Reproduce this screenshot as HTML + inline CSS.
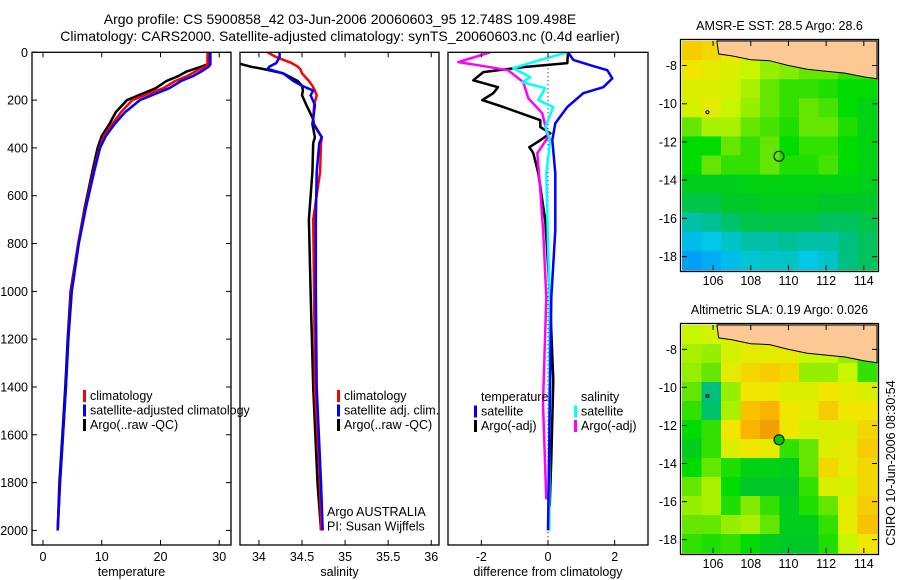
<!DOCTYPE html>
<html><head><meta charset="utf-8"><style>
html,body{margin:0;padding:0;background:#fff}
svg{display:block;font-family:"Liberation Sans",sans-serif}
text{fill:#000}
</style></head><body>
<svg id="fig" width="900" height="580" viewBox="0 0 900 580" xmlns="http://www.w3.org/2000/svg">
<rect width="900" height="580" fill="#fff"/>
<text x="340" y="24" font-size="14" text-anchor="middle">Argo profile: CS 5900858_42 03-Jun-2006 20060603_95 12.748S 109.498E</text>
<text x="340" y="41" font-size="14" text-anchor="middle">Climatology: CARS2000. Satellite-adjusted climatology: synTS_20060603.nc (0.4d earlier)</text>
<g id="layer"></g>
</svg>
<script>
// ---------- temperature panel data ----------
const tDepth = [0,30,50,60,80,100,120,150,200,250,300,350,400,500,650,800,1000,1200,1400,1600,1800,2000];
const tClim  = [28.0,28.0,28.0,27.6,26.0,24.5,22.5,20.5,15.2,13.3,11.8,10.4,9.6,8.6,7.2,6.0,4.8,4.3,3.9,3.4,2.9,2.5];
const tSat   = [28.5,28.5,28.5,28.2,27.0,25.5,23.5,21.5,16.5,14.0,12.2,10.7,9.7,8.7,7.3,6.1,4.9,4.3,3.9,3.4,2.9,2.5];
const tArgo  = [28.3,28.3,28.0,27.0,24.5,23.0,21.0,19.2,14.3,12.4,11.3,10.0,9.3,8.4,7.1,6.0,4.7,4.2,3.8,3.3,2.8,2.5];
const tTicks = [0,10,20,30];
// ---------- salinity panel data ----------
const sDepth = [0,20,45,60,70,88,120,140,160,180,220,280,300,355,380,500,700,1000,1400,1800,2000];
const sClim  = [34.1,34.2,34.38,34.45,34.48,34.5,34.58,34.62,34.65,34.67,34.64,34.63,34.64,34.73,34.72,34.71,34.63,34.64,34.65,34.71,34.72];
const sSat   = [34.24,34.24,34.2,34.12,34.1,34.28,34.4,34.5,34.63,34.6,34.65,34.63,34.63,34.73,34.7,34.67,34.66,34.66,34.67,34.72,34.74];
const sArgo  = [33.6,33.6,33.75,33.9,34.05,34.28,34.45,34.5,34.51,34.5,34.55,34.63,34.62,34.65,34.63,34.62,34.58,34.6,34.63,34.68,34.72];
const sTicks = [34,34.5,35,35.5,36];
// ---------- difference panel data ----------
const dTSatDepth = [0,32,54,75,109,146,171,229,297,367,506,744,1025,1500,2000];
const dTSat      = [0.6,0.76,1.27,1.78,1.93,1.66,1.06,0.58,0.22,0.13,0.22,0.22,0.1,0.05,0.0];
const dTArgoDepth = [0,45,62,83,117,146,171,200,229,284,313,339,376,397,422,506,703,1000,1372,1700,1900];
const dTArgo      = [0.6,0.58,-0.74,-1.94,-2.24,-1.5,-1.64,-1.97,-1.34,-0.23,-0.23,0.07,-0.32,-0.56,-0.44,-0.29,-0.08,0.05,0.16,0.1,0.05];
const dSSatDepth = [0,32,66,104,125,150,200,229,313,367,506,800,1025,1500,2000];
const dSSat      = [0.58,-0.23,-1.04,-0.53,-0.77,-0.08,-0.29,0.16,-0.08,0.07,-0.05,0.0,0.05,0.04,0.04];
const dSArgoDepth = [0,41,54,75,125,192,255,355,422,577,757,1025,1470,1870];
const dSArgo      = [-1.73,-2.69,-2.1,-1.2,-0.74,-0.59,-0.17,0.0,-0.32,-0.23,-0.14,-0.05,-0.15,-0.05];
const dTicks = [-2,0,2];
const depthTicks = [0,200,400,600,800,1000,1200,1400,1600,1800,2000];
// ---------- map data ----------
const lonTicks = [106,108,110,112,114];
const latTicks = [-8,-10,-12,-14,-16,-18];
const sstGrid = [
[.8,.78,.75,.7,.68,.65,.6,.6,.6,.6],
[.75,.72,.7,.65,.6,.58,.55,.55,.5,.5],
[.7,.7,.68,.62,.55,.5,.5,.48,.45,.45],
[.68,.72,.65,.6,.55,.5,.55,.52,.45,.42],
[.55,.62,.62,.55,.52,.48,.55,.55,.48,.42],
[.45,.45,.55,.5,.55,.45,.5,.5,.45,.42],
[.45,.55,.5,.5,.55,.48,.48,.52,.45,.42],
[.4,.4,.4,.42,.42,.42,.42,.42,.42,.4],
[.35,.35,.38,.38,.4,.4,.4,.38,.38,.38],
[.25,.28,.32,.35,.35,.35,.35,.33,.33,.35],
[.12,.15,.2,.25,.25,.28,.25,.25,.3,.33],
[.05,.08,.12,.18,.2,.2,.15,.2,.3,.33]];
const slaGrid = [
[.65,.68,.7,.7,.7,.7,.65,.62,.6,.55],
[.62,.6,.68,.72,.72,.72,.65,.65,.6,.5],
[.6,.55,.72,.78,.8,.78,.6,.6,.65,.5],
[.55,.3,.6,.75,.75,.7,.7,.75,.72,.7],
[.5,.32,.62,.82,.85,.75,.72,.8,.75,.75],
[.45,.5,.75,.85,.88,.75,.68,.7,.7,.78],
[.4,.5,.7,.75,.72,.5,.55,.7,.72,.8],
[.45,.55,.48,.42,.42,.4,.55,.78,.72,.78],
[.55,.62,.45,.38,.38,.38,.5,.7,.68,.78],
[.6,.62,.48,.58,.5,.4,.48,.55,.72,.8],
[.55,.55,.6,.62,.55,.4,.4,.5,.72,.82],
[.5,.48,.5,.45,.4,.38,.38,.48,.65,.75]];
const floatLon = 109.498, floatLat = -12.748;

const NS="http://www.w3.org/2000/svg";
const layer=document.getElementById('layer');
function mk(tag,attrs,parent){const e=document.createElementNS(NS,tag);for(const k in attrs)e.setAttribute(k,attrs[k]);(parent||layer).appendChild(e);return e;}
function lin(d0,d1,r0,r1){return v=>r0+(v-d0)*(r1-r0)/(d1-d0);}

const PT=52.3, PB=545;
const yD = lin(0,2061,PT,PB);

function panel(name,x0,x1,xmin,xmax,ticks,label,yTicks){
  const g=mk('g',{});
  
  
  const xs=lin(xmin,xmax,x0,x1);
  const cid='clip-'+name;
  const cp=mk('clipPath',{id:cid},g);mk('rect',{x:x0,y:PT,width:x1-x0,height:PB-PT},cp);
  const plot=mk('g',{'clip-path':'url(#'+cid+')'},g);
  ticks.forEach(t=>{
    const x=xs(t);
    const tk=mk('path',{d:`M${x},${PB}v-5M${x},${PT}v5`,stroke:'#000','stroke-width':1},g);
    
    
    const tl=mk('text',{x:x,y:PB+16,'font-size':12.5,'text-anchor':'middle'},g);
    tl.textContent=String(t);
    
    
  });
  if(yTicks){
    depthTicks.forEach(d=>{
      const y=yD(d);
      const tk=mk('path',{d:`M${x0},${y}h5M${x1},${y}h-5`,stroke:'#000','stroke-width':1},g);
      
      
      const tl=mk('text',{x:x0-4,y:y+4.5,'font-size':12.5,'text-anchor':'end'},g);
      tl.textContent=String(d);
      
      
    });
  }
  const xl=mk('text',{x:(x0+x1)/2,y:PB+31,'font-size':12.5,'text-anchor':'middle'},g);
  xl.textContent=label;
  
  
  const fr=mk('rect',{x:x0,y:PT,width:x1-x0,height:PB-PT,fill:'none',stroke:'#000','stroke-width':1.3},g);
  
  
  return {g,plot,xs};
}
function series(p,name,depths,vals,color,w){
  let d='';
  vals.forEach((v,i)=>{d+=(i?'L':'M')+p.xs(v).toFixed(1)+','+yD(depths[i]).toFixed(1);});
  const l=mk('path',{d:d,fill:'none',stroke:color,'stroke-width':w||2.5,'stroke-linejoin':'round'},p.plot);
  
  
}
function legend(p,x,y,items){
  items.forEach((it,i)=>{
    if(it.c){const b=mk('rect',{x:x,y:y+i*14.5-10,width:3,height:12,fill:it.c},p.g);
      
      }
    const t=mk('text',{x:x+7,y:y+i*14.5,'font-size':12.5},p.g);
    t.textContent=it.t;
    
    
  });
}

// temperature
const p1=panel('temperature-panel',32,231,-1.87,32.0,tTicks,'temperature',true);
series(p1,'temp-argo-line',tDepth,tArgo,'#000');
series(p1,'temp-climatology-line',tDepth,tClim,'#f00');
series(p1,'temp-satellite-line',tDepth,tSat,'#00f');
legend(p1,83,400,[{c:'#f00',t:'climatology'},{c:'#00f',t:'satellite-adjusted climatology'},{c:'#000',t:'Argo(..raw -QC)'}]);

// salinity
const p2=panel('salinity-panel',240,439,33.78,36.09,sTicks,'salinity',false);
series(p2,'sal-argo-line',sDepth,sArgo,'#000');
series(p2,'sal-climatology-line',sDepth,sClim,'#f00');
series(p2,'sal-satellite-line',sDepth,sSat,'#00f');
legend(p2,337,400,[{c:'#f00',t:'climatology'},{c:'#00f',t:'satellite adj. clim.'},{c:'#000',t:'Argo(..raw -QC)'}]);
legend(p2,320,516,[{t:'Argo AUSTRALIA'},{t:'PI: Susan Wijffels'}]);

// difference
const p3=panel('difference-panel',448,648,-3,3,dTicks,'difference from climatology',false);
const zl=mk('line',{x1:p3.xs(0),x2:p3.xs(0),y1:PT,y2:PB,stroke:'#000','stroke-width':1,'stroke-dasharray':'1,3'},p3.plot);


series(p3,'diff-temp-argo-line',dTArgoDepth,dTArgo,'#000');
series(p3,'diff-sal-argo-line',dSArgoDepth,dSArgo,'#f0f');
series(p3,'diff-sal-satellite-line',dSSatDepth,dSSat,'#0ff');
series(p3,'diff-temp-satellite-line',dTSatDepth,dTSat,'#00f');
legend(p3,474,401,[{t:'temperature'},{c:'#00f',t:'satellite'},{c:'#000',t:'Argo(-adj)'}]);
legend(p3,574,401,[{t:'salinity'},{c:'#0ff',t:'satellite'},{c:'#f0f',t:'Argo(-adj)'}]);

// ---------- maps ----------
const cmapStops=[[0,[0,140,255]],[.15,[0,200,230]],[.28,[0,190,150]],[.38,[0,200,40]],[.45,[0,220,0]],[.55,[100,230,0]],[.65,[200,245,0]],[.75,[240,230,0]],[.85,[250,180,0]],[1,[210,80,0]]];
function cmap(v){
  for(let i=1;i<cmapStops.length;i++){if(v<=cmapStops[i][0]){const a=cmapStops[i-1],b=cmapStops[i];const f=(v-a[0])/(b[0]-a[0]);
    return 'rgb('+a[1].map((c,j)=>Math.round(c+f*(b[1][j]-c))).join(',')+')';}}
  return 'rgb(210,80,0)';
}
const LON0=104.35,LON1=114.7,LAT0=-6.72,LAT1=-18.7;
function mapPanel(name,x0,x1,y0,y1,grid,title,marker){
  const g=mk('g',{});
  
  
  const xs=lin(LON0,LON1,x0,x1), ys=lin(LAT0,LAT1,y0,y1);
  const nr=grid.length, nc=grid[0].length;
  const dLon=(LON1-LON0)/nc, dLat=(LAT1-LAT0)/nr;
  grid.forEach((row,r)=>row.forEach((v,c)=>{
    const xa=xs(LON0+c*dLon), xb=xs(LON0+(c+1)*dLon), ya=ys(LAT0+r*dLat), yb=ys(LAT0+(r+1)*dLat);
    const cell=mk('rect',{x:xa.toFixed(1),y:ya.toFixed(1),width:(xb-xa+0.6).toFixed(1),height:(yb-ya+0.6).toFixed(1),fill:cmap(v)},g);
    
    
  }));
  const land=[[106.2,-6.72],[106.3,-7.4],[107,-7.5],[108,-7.7],[109,-7.75],[110,-8.0],[111,-8.2],[112,-8.3],[113,-8.4],[114,-8.6],[114.7,-8.7],[114.7,-6.72]];
  const lp=mk('path',{d:land.map((p,i)=>(i?'L':'M')+xs(p[0]).toFixed(1)+','+ys(p[1]).toFixed(1)).join('')+'Z',fill:'#fcc995',stroke:'#000','stroke-width':1},g);
  
  
  const isl=mk('circle',{cx:xs(105.7),cy:ys(-10.45),r:1.5,fill:'none',stroke:'#000'},g);
  
  
  const mkr=mk('circle',{cx:xs(floatLon),cy:ys(floatLat),r:5,fill:marker,stroke:'#000','stroke-width':1},g);
  
  
  lonTicks.forEach(t=>{const x=xs(t);
    const tk=mk('path',{d:`M${x},${y1}v-5M${x},${y0}v5`,stroke:'#000'},g);
    
    
    const tl=mk('text',{x:x,y:y1+15,'font-size':12.5,'text-anchor':'middle'},g);
    tl.textContent=String(t);
    
    });
  latTicks.forEach(t=>{const y=ys(t);
    const tk=mk('path',{d:`M${x0},${y}h5M${x1},${y}h-5`,stroke:'#000'},g);
    
    
    const tl=mk('text',{x:x0-5,y:y+4.5,'font-size':12.5,'text-anchor':'end'},g);
    tl.textContent=String(t).replace('-','-');
    
    });
  const fr=mk('rect',{x:x0-1.5,y:y0-1.5,width:x1-x0+3,height:y1-y0+3,fill:'none',stroke:'#000','stroke-width':1.3},g);
  
  
  const tt=mk('text',{x:(x0+x1)/2,y:y0-11,'font-size':12.5,'text-anchor':'middle'},g);
  tt.textContent=title;
  
  
}
mapPanel('sst-map',682,877,41,270,sstGrid,'AMSR-E SST: 28.5 Argo: 28.6','none');
mapPanel('sla-map',682,877,325,553,slaGrid,'Altimetric SLA: 0.19 Argo: 0.026','#00c800');
const stamp=mk('text',{x:0,y:0,'font-size':12.5,'text-anchor':'middle',transform:'translate(895,463) rotate(-90)'});
stamp.textContent='CSIRO 10-Jun-2006 08:30:54';


</script>
</body></html>
